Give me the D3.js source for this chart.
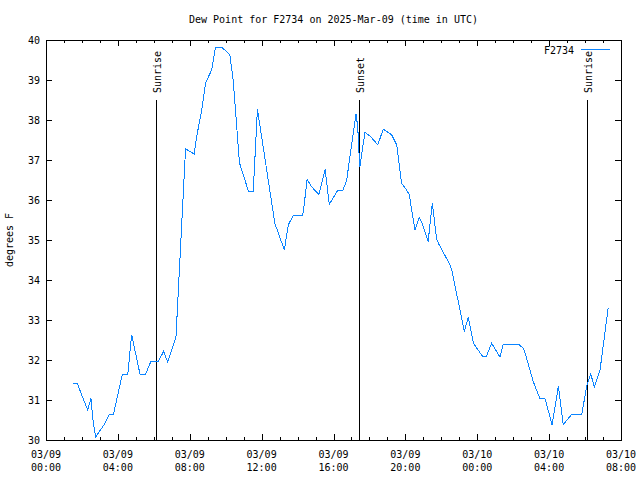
<!DOCTYPE html>
<html><head><meta charset="utf-8">
<script src="https://cdn.jsdelivr.net/npm/d3@7"></script>
<style>
html,body{margin:0;padding:0;background:#fff;}
svg{display:block;}
text{font-family:"DejaVu Sans Mono",monospace;font-size:10px;fill:#000;}
</style></head>
<body>
<svg id="c" width="640" height="480"></svg>
<script>
const title = "Dew Point for F2734 on 2025-Mar-09 (time in UTC)";
const seriesName = "F2734";
const yLabel = "degrees F";
const times = [
 "2025-03-09T01:31","2025-03-09T01:44","2025-03-09T02:19","2025-03-09T02:30","2025-03-09T02:38","2025-03-09T02:46",
 "2025-03-09T03:14","2025-03-09T03:31","2025-03-09T03:45","2025-03-09T04:15","2025-03-09T04:33","2025-03-09T04:46",
 "2025-03-09T05:14","2025-03-09T05:32","2025-03-09T05:50","2025-03-09T06:15","2025-03-09T06:33","2025-03-09T06:46",
 "2025-03-09T07:14","2025-03-09T07:46","2025-03-09T08:15","2025-03-09T08:23","2025-03-09T08:40","2025-03-09T08:53",
 "2025-03-09T09:13","2025-03-09T09:26","2025-03-09T09:47","2025-03-09T10:14","2025-03-09T10:25","2025-03-09T10:46",
 "2025-03-09T11:16","2025-03-09T11:32","2025-03-09T11:46","2025-03-09T12:44","2025-03-09T13:16","2025-03-09T13:29",
 "2025-03-09T13:46","2025-03-09T14:17","2025-03-09T14:22","2025-03-09T14:32","2025-03-09T14:47","2025-03-09T15:11",
 "2025-03-09T15:32","2025-03-09T15:46","2025-03-09T16:13","2025-03-09T16:31","2025-03-09T16:44","2025-03-09T17:15",
 "2025-03-09T17:21","2025-03-09T17:24","2025-03-09T17:28","2025-03-09T17:45","2025-03-09T18:02","2025-03-09T18:28",
 "2025-03-09T18:46","2025-03-09T19:14","2025-03-09T19:31","2025-03-09T19:47","2025-03-09T20:04","2025-03-09T20:13",
 "2025-03-09T20:32","2025-03-09T20:46","2025-03-09T20:58","2025-03-09T21:16","2025-03-09T21:30","2025-03-09T21:44",
 "2025-03-09T21:50","2025-03-09T22:29","2025-03-09T22:35","2025-03-09T23:17","2025-03-09T23:30","2025-03-09T23:47",
 "2025-03-10T00:17","2025-03-10T00:31","2025-03-10T00:48","2025-03-10T01:16","2025-03-10T01:27","2025-03-10T02:17",
 "2025-03-10T02:34","2025-03-10T02:45","2025-03-10T03:07","2025-03-10T03:29","2025-03-10T03:46","2025-03-10T04:10",
 "2025-03-10T04:31","2025-03-10T04:47","2025-03-10T05:15","2025-03-10T05:49","2025-03-10T06:05","2025-03-10T06:19",
 "2025-03-10T06:31","2025-03-10T06:50","2025-03-10T07:17"
];
const dewPoint = [
 31.42,31.42,30.75,31.04,30.42,30.08,
 30.38,30.64,30.64,31.64,31.64,32.63,
 31.64,31.64,31.96,31.96,32.22,31.95,
 32.58,37.28,37.15,37.58,38.25,38.93,
 39.25,39.82,39.82,39.63,39.00,36.93,
 36.22,36.22,38.27,35.42,34.75,35.38,
 35.62,35.62,35.88,36.52,36.33,36.14,
 36.77,35.89,36.23,36.23,36.50,38.15,
 37.83,37.33,36.83,37.69,37.60,37.38,
 37.77,37.63,37.38,36.42,36.25,36.13,
 35.25,35.56,35.38,34.96,35.92,35.04,
 34.92,34.38,34.25,32.71,33.08,32.42,
 32.10,32.10,32.42,32.07,32.40,32.40,
 32.29,32.04,31.46,31.04,31.04,30.38,
 31.35,30.38,30.64,30.64,31.33,31.65,
 31.33,31.75,33.29
];
const eventNames = ["Sunrise","Sunset","Sunrise"];
const eventTimes = ["2025-03-09T06:08","2025-03-09T17:26","2025-03-10T06:07"];
const xDomain = ["2025-03-09T00:00","2025-03-10T08:00"];
const yDomain = [30,40];
const yTicks = [30,31,32,33,34,35,36,37,38,39,40];

const parse = s => new Date(s + ":00Z");
const svg = d3.select("#c");
const L=46, R=621, T=40, B=440;
const x = d3.scaleUtc().domain(xDomain.map(parse)).range([L,R]);
const y = d3.scaleLinear().domain(yDomain).range([B,T]);

// title
svg.append("text").attr("x",(L+R)/2).attr("y",23).attr("text-anchor","middle").text(title);

// axes
const fmtD = d3.utcFormat("%m/%d"), fmtT = d3.utcFormat("%H:%M");
const majors = x.ticks(d3.utcHour.every(4));
const minors = x.ticks(d3.utcHour.every(1));

const bottom = svg.append("g").attr("transform",`translate(0,${B})`)
  .call(d3.axisBottom(x).tickValues(majors).tickSize(0).tickFormat(""));
bottom.select(".domain").remove();
const gt = svg.append("g");
minors.forEach(t=>{
  const isMaj = t.getUTCHours()%4===0;
  const len = isMaj?6:3;
  const px = Math.round(x(t))+0.5;
  gt.append("line").attr("x1",px).attr("x2",px).attr("y1",B).attr("y2",B-len).attr("stroke","#000");
  gt.append("line").attr("x1",px).attr("x2",px).attr("y1",T).attr("y2",T+len).attr("stroke","#000");
});
majors.forEach(t=>{
  const px = x(t);
  gt.append("text").attr("x",px).attr("y",458).attr("text-anchor","middle").text(fmtD(t));
  gt.append("text").attr("x",px).attr("y",471).attr("text-anchor","middle").text(fmtT(t));
});
const left = svg.append("g").attr("transform",`translate(${L},0)`)
  .call(d3.axisLeft(y).tickValues(yTicks).tickSize(0).tickPadding(6).tickFormat(d3.format("d")));
left.select(".domain").remove();
left.selectAll("text").attr("font-family","DejaVu Sans Mono").attr("font-size","10px").attr("x",-6);
yTicks.forEach(v=>{
  const py = Math.round(y(v))+0.5;
  gt.append("line").attr("x1",L).attr("x2",L+6).attr("y1",py).attr("y2",py).attr("stroke","#000");
  gt.append("line").attr("x1",R).attr("x2",R-6).attr("y1",py).attr("y2",py).attr("stroke","#000");
});
svg.append("text").attr("transform","translate(13,240) rotate(-90)").attr("text-anchor","middle").text(yLabel);

// frame
svg.append("rect").attr("x",L+0.5).attr("y",T+0.5).attr("width",R-L).attr("height",B-T)
  .attr("fill","none").attr("stroke","#000");

// events
eventTimes.forEach((s,i)=>{
  const px = Math.round(x(parse(s)))+0.5;
  svg.append("line").attr("x1",px).attr("x2",px).attr("y1",100).attr("y2",B).attr("stroke","#000");
  svg.append("text").attr("transform",`translate(${px+4.5},93) rotate(-90)`).attr("text-anchor","start").text(eventNames[i]);
});

// data line
const data = times.map((t,i)=>({t:parse(t),v:dewPoint[i]}));
svg.append("path").datum(data)
  .attr("d",d3.line().x(d=>x(d.t)).y(d=>y(d.v)))
  .attr("fill","none").attr("stroke","#0b84ff").attr("stroke-width",1)
  .attr("shape-rendering","crispEdges");

// legend
svg.append("text").attr("x",574).attr("y",54).attr("text-anchor","end").text(seriesName);
svg.append("line").attr("x1",581).attr("x2",610).attr("y1",49.5).attr("y2",49.5).attr("stroke","#0b84ff");
</script>
</body></html>
